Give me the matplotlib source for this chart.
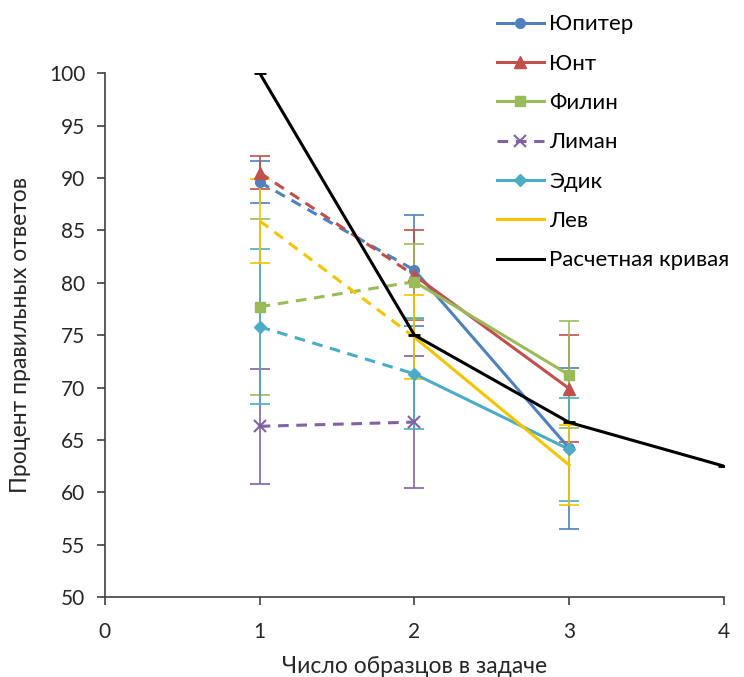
import matplotlib
matplotlib.use("Agg")
import matplotlib.pyplot as plt
from matplotlib.lines import Line2D

plt.rcParams['font.family'] = ['Lato', 'DejaVu Sans']

x_vals = [1, 2, 3]
names = ["Юпитер", "Юнт", "Филин", "Лиман", "Эдик", "Лев"]
colors = ["#4F81BD", "#C0504D", "#9BBB59", "#8064A2", "#4BACC6", "#F5C400"]
markers = ["o", "^", "s", "x", "D", None]
msizes = [7, 8, 7, 8, 6, 0]

jupiter = [89.6, 81.2, 64.2]
jupiter_err = [2.0, 5.3, 7.7]
junt = [90.5, 80.7, 69.9]
junt_err = [1.6, 4.3, 5.1]
filin = [77.7, 80.1, 71.2]
filin_err = [8.4, 3.6, 5.1]
liman = [66.3, 66.7]
liman_err = [5.5, 6.3]
edik = [75.8, 71.3, 64.1]
edik_err = [7.4, 5.3, 4.9]
lev = [85.9, 74.8, 62.6]
lev_err = [4.0, 4.0, 3.8]

series = [jupiter, junt, filin, liman, edik, lev]
errors = [jupiter_err, junt_err, filin_err, liman_err, edik_err, lev_err]

calc_x = [1, 2, 3, 4]
calc_y = [100, 75, 66.67, 62.5]

fig = plt.figure(figsize=(7.44, 6.77), dpi=100)
ax = fig.add_axes([0.141, 0.118, 0.832, 0.774])

handles = []
for nm, c, mk, ms, ys, es in zip(names, colors, markers, msizes, series, errors):
    xs = x_vals[:len(ys)]
    ax.errorbar(xs, ys, yerr=es, fmt="none", ecolor=c, elinewidth=1.2,
                capsize=7, capthick=1.2, zorder=2)
    # dashed from 1 to 2
    ax.plot(xs[:2], ys[:2], color=c, lw=2.2, ls=(0, (3.5, 2.5)), zorder=3)
    if len(ys) > 2:
        ax.plot(xs[1:], ys[1:], color=c, lw=2.2, ls="-", zorder=3)
    if mk:
        ax.plot(xs, ys, ls="none", marker=mk, ms=ms, color=c, mec=c,
                mew=1.5 if mk == "x" else 1, zorder=4)
    ls = (0, (3.5, 2.5)) if nm == "Лиман" else "-"
    handles.append(Line2D([], [], color=c, lw=2.2, ls=ls, marker=mk if mk else None,
                          ms=ms, mew=1.5 if mk == "x" else 1, label=nm))

ax.plot(calc_x, calc_y, color="black", lw=2.2, marker="_", ms=8, mew=2, zorder=5)
handles.append(Line2D([], [], color="black", lw=2.2, marker="_", ms=8, mew=2,
                      label="Расчетная кривая"))

ax.set_xlim(0, 4)
ax.set_ylim(50, 100)
ax.set_xticks([0, 1, 2, 3, 4])
ax.set_yticks(range(50, 101, 5))
ax.tick_params(axis="both", direction="out", length=6, width=1.2, colors="#404040",
               labelsize=15, labelcolor="#262626")
ax.tick_params(axis="x", pad=12)
ax.tick_params(axis="y", pad=8)
for sp in ["top", "right"]:
    ax.spines[sp].set_visible(False)
for sp in ["left", "bottom"]:
    ax.spines[sp].set_color("#404040")
    ax.spines[sp].set_linewidth(1.2)

ax.set_xlabel("Число образцов в задаче", fontsize=16.5, color="#262626", labelpad=10)
ax.set_ylabel("Процент правильных ответов", fontsize=16.5, color="#262626", labelpad=13)

fig.legend(handles=handles, loc="upper left", bbox_to_anchor=(0.656, 0.992),
           frameon=False, fontsize=16, handlelength=2.1, handletextpad=0.25,
           labelspacing=0.87, borderaxespad=0)

fig.savefig("out.png", dpi=100)
